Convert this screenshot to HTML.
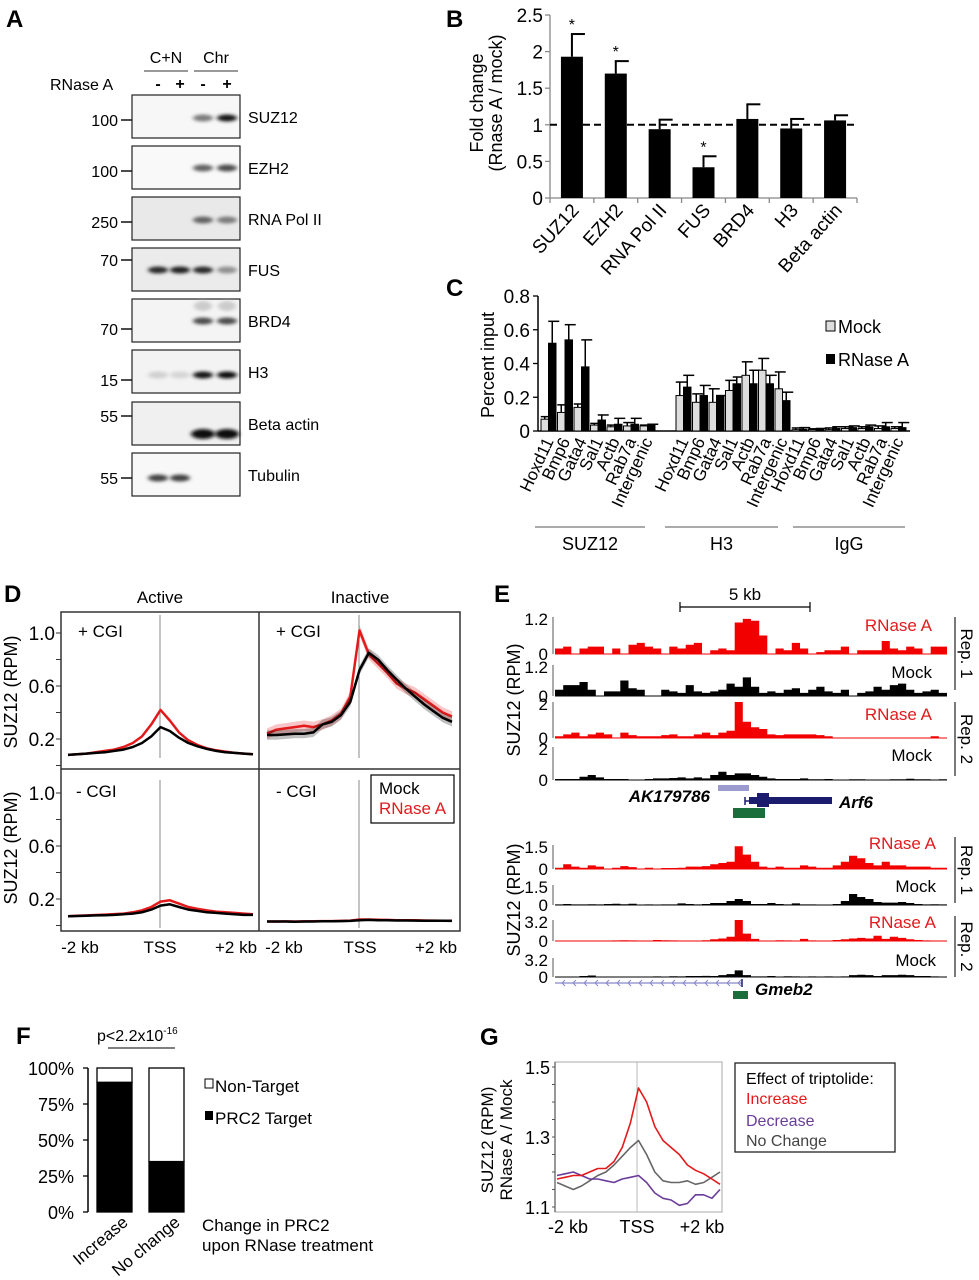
<!DOCTYPE html>
<html><head><meta charset="utf-8"><title>SUZ12 RNase A figure</title>
<style>
html,body{margin:0;padding:0;background:#fff;}
svg{display:block;font-family:"Liberation Sans",Arial,sans-serif;}
</style></head>
<body>
<svg id="fig" width="979" height="1280" viewBox="0 0 979 1280" xmlns="http://www.w3.org/2000/svg">
<defs>
<filter id="blur2" x="-50%" y="-100%" width="200%" height="300%"><feGaussianBlur stdDeviation="2.2 1.6"/></filter>
</defs>
</svg>
<script>
// ---------- Panel B data ----------
const bCats=['SUZ12','EZH2','RNA Pol II','FUS','BRD4','H3','Beta actin'];
const bVals=[1.93,1.70,0.94,0.42,1.08,0.95,1.06];
const bErr=[0.31,0.17,0.13,0.15,0.20,0.13,0.07];
const bStar=[1,1,0,1,0,0,0];
const bTicks=[0,0.5,1,1.5,2,2.5];
const bTickLabels=['0','0.5','1','1.5','2','2.5'];
// ---------- Panel C data ----------
const cGenes=['Hoxd11','Bmp6','Gata4','Sal1','Actb','Rab7a','Intergenic'];
const cGroups=['SUZ12','H3','IgG'];
const cMockSUZ12=[0.07,0.11,0.14,0.035,0.025,0.03,0.03];
const cRnaseSUZ12=[0.52,0.54,0.38,0.065,0.04,0.04,0.035];
const cMockErrSUZ12=[0.015,0.045,0.02,0.01,0.01,0.02,0.005];
const cRnaseErrSUZ12=[0.13,0.09,0.16,0.03,0.035,0.035,0.005];
const cMockH3=[0.21,0.17,0.17,0.24,0.33,0.36,0.25];
const cRnaseH3=[0.26,0.21,0.21,0.28,0.28,0.28,0.18];
const cMockErrH3=[0.08,0.05,0.08,0.06,0.08,0.07,0.10];
const cRnaseErrH3=[0.07,0.06,0.0,0.04,0.08,0.05,0.05];
const cMockIgG=[0.008,0.008,0.008,0.015,0.015,0.015,0.015];
const cRnaseIgG=[0.01,0.01,0.015,0.02,0.025,0.025,0.02];
const cMockErrIgG=[0.01,0.005,0.01,0.01,0.01,0.015,0.01];
const cRnaseErrIgG=[0.01,0.005,0.01,0.01,0.01,0.025,0.03];
const cTicks=[0,0.2,0.4,0.6,0.8];
const cTickLabels=['0','0.2','0.4','0.6','0.8'];
// ---------- Panel D data (21 points, -2kb..+2kb) ----------
const dActCgiMock=[0.08,0.085,0.09,0.095,0.10,0.11,0.12,0.14,0.17,0.22,0.29,0.26,0.21,0.17,0.145,0.125,0.11,0.10,0.095,0.09,0.085];
const dActCgiRnase=[0.08,0.085,0.09,0.10,0.11,0.12,0.14,0.17,0.22,0.31,0.42,0.34,0.25,0.19,0.155,0.13,0.115,0.105,0.095,0.09,0.085];
const dInCgiMock=[0.23,0.23,0.235,0.24,0.24,0.25,0.31,0.33,0.38,0.48,0.72,0.85,0.80,0.72,0.65,0.58,0.52,0.46,0.41,0.36,0.33];
const dInCgiRnase=[0.24,0.27,0.28,0.29,0.30,0.29,0.31,0.34,0.39,0.52,1.02,0.84,0.77,0.70,0.62,0.58,0.55,0.50,0.45,0.40,0.37];
const dActNoMock=[0.07,0.072,0.074,0.076,0.078,0.08,0.085,0.09,0.10,0.12,0.15,0.16,0.14,0.12,0.11,0.10,0.095,0.09,0.085,0.08,0.08];
const dActNoRnase=[0.07,0.073,0.076,0.079,0.082,0.086,0.09,0.10,0.115,0.14,0.18,0.19,0.165,0.14,0.125,0.115,0.105,0.10,0.095,0.09,0.085];
const dInNoMock=[0.03,0.03,0.03,0.028,0.03,0.03,0.032,0.032,0.033,0.035,0.04,0.042,0.04,0.04,0.038,0.038,0.037,0.036,0.036,0.036,0.035];
const dInNoRnase=[0.03,0.03,0.031,0.03,0.031,0.032,0.033,0.033,0.035,0.037,0.045,0.045,0.043,0.042,0.04,0.04,0.039,0.038,0.037,0.036,0.036];
const dYTicks=[0.2,0.6,1.0];
const dYTickLabels=['0.2','0.6','1.0'];
// ---------- Panel E data (48 bins, fraction of track max) ----------
const eArfR1=[0.15,0.2,0,0.15,0.2,0.2,0,0.15,0,0.25,0.3,0.2,0.15,0,0.2,0.15,0.25,0.3,0,0.1,0.15,0.1,0.85,0.95,0.9,0.5,0,0.15,0.1,0.3,0.15,0,0.05,0.1,0.1,0.2,0,0.1,0.1,0.1,0.35,0.15,0.1,0.2,0.15,0,0.2,0.2];
const eArfM1=[0.2,0.35,0.35,0.45,0.2,0,0.15,0.15,0.5,0.25,0.2,0,0,0.2,0.15,0.1,0.35,0.15,0.1,0.15,0.2,0.4,0.3,0.6,0.3,0.1,0.15,0.1,0.2,0.25,0.1,0.2,0.3,0.15,0.1,0.2,0,0.1,0.15,0.3,0.2,0.35,0.4,0.2,0.1,0.15,0.2,0.1];
const eArfR2=[0.05,0.1,0.15,0.05,0.1,0.15,0.1,0,0.15,0.08,0.05,0.05,0.05,0.08,0.1,0.05,0.05,0.1,0.15,0.08,0.15,0.2,1.0,0.45,0.3,0.25,0.1,0.08,0.1,0.1,0.1,0.1,0.08,0.05,0,0,0,0,0,0,0,0,0,0,0,0,0.05,0];
const eArfM2=[0.03,0.03,0.03,0.1,0.15,0.08,0.03,0.03,0.03,0,0,0.03,0.05,0.05,0.06,0.08,0.05,0.08,0.05,0.15,0.25,0.15,0.2,0.2,0.15,0.1,0.05,0.03,0.03,0.03,0.05,0.02,0.02,0.03,0,0,0.02,0.02,0,0,0,0.02,0.02,0.04,0.02,0.02,0.01,0.02];
const eGmR1=[0.05,0.2,0.1,0.05,0.15,0.1,0,0.05,0.12,0.08,0,0.05,0,0.04,0.04,0.05,0.1,0.1,0.12,0.2,0.25,0.3,0.95,0.6,0.3,0.1,0.05,0.1,0.05,0.05,0.15,0.1,0.05,0.05,0.15,0.3,0.55,0.45,0.25,0.15,0.3,0.15,0.15,0.1,0.1,0.1,0.05,0.05];
const eGmM1=[0.03,0.05,0.03,0.03,0.04,0.03,0.05,0.06,0.04,0.06,0,0.03,0.02,0.03,0.03,0.08,0.05,0.03,0.05,0.1,0.1,0.2,0.3,0.2,0.05,0.05,0.1,0.05,0.03,0.08,0.03,0.03,0.02,0.02,0.05,0.2,0.55,0.4,0.3,0.15,0.12,0.12,0.15,0.1,0.05,0.03,0.04,0.03];
const eGmR2=[0,0,0,0,0,0,0,0.03,0.04,0.03,0.02,0.02,0.05,0.04,0.03,0.02,0.02,0.02,0.04,0.08,0.12,0.2,1.0,0.35,0.1,0.02,0.02,0.04,0.03,0.02,0.1,0.03,0.02,0.02,0.05,0.08,0.12,0.15,0.12,0.25,0.1,0.2,0.15,0.08,0.05,0.03,0.02,0];
const eGmM2=[0,0,0,0.05,0.08,0.02,0.02,0.02,0.02,0.02,0.02,0.02,0.03,0.02,0.04,0.03,0.05,0.05,0.06,0.05,0.1,0.15,0.35,0.1,0.03,0.03,0.05,0.02,0.04,0.03,0.02,0.03,0.02,0.03,0.02,0.03,0.1,0.12,0.1,0.05,0.1,0.1,0.12,0.1,0.05,0.05,0.03,0.02];
// ---------- Panel F data ----------
const fCats=['Increase','No change'];
const fTarget=[90,35];
const fTicks=[0,25,50,75,100];
const fTickLabels=['0%','25%','50%','75%','100%'];
// ---------- Panel G data ----------
const gIncrease=[1.18,1.185,1.19,1.19,1.20,1.21,1.21,1.23,1.27,1.34,1.44,1.40,1.33,1.29,1.27,1.25,1.22,1.205,1.195,1.18,1.165];
const gNoChange=[1.17,1.16,1.15,1.16,1.175,1.19,1.20,1.22,1.245,1.27,1.29,1.25,1.20,1.175,1.17,1.17,1.175,1.165,1.17,1.185,1.20];
const gDecrease=[1.19,1.195,1.20,1.19,1.18,1.18,1.175,1.17,1.18,1.185,1.19,1.17,1.14,1.125,1.12,1.105,1.11,1.135,1.135,1.125,1.15];
const gTicks=[1.1,1.3,1.5];
const gTickLabels=['1.1','1.3','1.5'];
// ---------- Panel A data ----------
const aLanes=[158,180,203,227];
const aProteins=['SUZ12','EZH2','RNA Pol II','FUS','BRD4','H3','Beta actin','Tubulin'];
const aMW=['100','100','250','70','70','15','55','55'];
const aBand=[[0,0,0.5,0.95],[0,0,0.6,0.7],[0,0,0.6,0.5],[0.85,0.9,0.85,0.4],[0,0,0.7,0.7],[0.12,0.1,0.95,0.98],[0,0,0.97,0.97],[0.75,0.75,0,0]];
</script>
<script>
const NS='http://www.w3.org/2000/svg';
const svg=document.getElementById('fig');
function mk(tag,attrs,parent){const e=document.createElementNS(NS,tag);for(const k in attrs)e.setAttribute(k,attrs[k]);(parent||svg).appendChild(e);return e;}
function tx(str,x,y,attrs,parent){const e=mk('text',Object.assign({x:x,y:y},attrs||{}),parent);e.textContent=str;return e;}
function grp(name){const g=mk('g',{});return g;}
let el;

[['A',6,27],['B',446,27],['C',446,296],['D',4,602],['E',494,602],['F',16,1044],['G',480,1045]].forEach(function(p){
  el=tx(p[0],p[1],p[2],{'font-size':24,'font-weight':'bold'});
  
  
});

// ================= Panel A =================
(function(){
  const g=grp('panel-a-western-blots');
  el=tx('C+N',166,63,{'font-size':16,'text-anchor':'middle'},g);
  
  el=tx('Chr',216,63,{'font-size':16,'text-anchor':'middle'},g);
  
  mk('line',{x1:144,y1:71,x2:188,y2:71,stroke:'#333','stroke-width':1},g);
  mk('line',{x1:194,y1:71,x2:238,y2:71,stroke:'#333','stroke-width':1},g);
  el=tx('RNase A',50,90,{'font-size':16},g);
  
  ['-','+','-','+'].forEach(function(s,i){tx(s,aLanes[i],89,{'font-size':16,'text-anchor':'middle','font-weight':'bold'},g);});
  const tops=[95,146,197,248,299,350,402,453];
  const mwY=[120,171,222,260,329,380,416,478];
  const bandY=[118,168,220,270,321,375,434,478];
  const bg=['#f7f7f7','#f9f9f9','#e9e9e9','#ebebeb','#f4f4f4','#f3f3f3','#f0f0f0','#f8f8f8'];
  for(let r=0;r<8;r++){
    const rg=mk('g',{},g);
    
    
    mk('rect',{x:132,y:tops[r],width:108,height:43,fill:bg[r],stroke:'#222','stroke-width':1.2},rg);
    for(let l=0;l<4;l++){
      const v=aBand[r][l]; if(v<=0) continue;
      const gray=Math.round(235-v*225);
      mk('ellipse',{cx:aLanes[l],cy:bandY[r],rx:(r===6?12:10),ry:(r===6?5:3.5),fill:'rgb('+gray+','+gray+','+gray+')',filter:'url(#blur2)'},rg);
    }
    if(r===4){for(let l=2;l<4;l++){mk('ellipse',{cx:aLanes[l],cy:306,rx:9,ry:5,fill:'#ccc',filter:'url(#blur2)'},rg);}}
    el=tx(aProteins[r],248,tops[r]+28,{'font-size':16},g);
    
    el=tx(aMW[r],118,mwY[r]+6,{'font-size':16,'text-anchor':'end'},g);
    
    mk('line',{x1:121,y1:mwY[r],x2:132,y2:mwY[r],stroke:'#111','stroke-width':1.5},g);
  }
})();

// ================= Panel B =================
(function(){
  const g=grp('panel-b-fold-change-chart');
  const x0=550,x1=857,y0=198,k=73.2;
  const yB=function(v){return y0-v*k;};
  const cw=(x1-x0)/bCats.length;
  const xB=function(i){return x0+cw*(i+0.5);};
  mk('line',{x1:x0,y1:yB(2.5),x2:x0,y2:y0,stroke:'#888','stroke-width':1.3},g);
  mk('line',{x1:x0,y1:y0,x2:x1,y2:y0,stroke:'#888','stroke-width':1.3},g);
  bTicks.forEach(function(t,i){
    mk('line',{x1:x0-5,y1:yB(t),x2:x0,y2:yB(t),stroke:'#888','stroke-width':1.3},g);
    el=tx(bTickLabels[i],543,yB(t)+7,{'font-size':19,'text-anchor':'end'},g);
    
  });
  for(let i=0;i<=bCats.length;i++){mk('line',{x1:x0+cw*i,y1:y0,x2:x0+cw*i,y2:y0+5,stroke:'#888','stroke-width':1.3},g);}
  bCats.forEach(function(c,i){
    const cx=xB(i);
    el=mk('rect',{x:cx-11,y:yB(bVals[i]),width:22,height:y0-yB(bVals[i]),fill:'#000'},g);
    
    mk('line',{x1:cx,y1:yB(bVals[i]),x2:cx,y2:yB(bVals[i]+bErr[i]),stroke:'#000','stroke-width':2},g);
    mk('line',{x1:cx-1,y1:yB(bVals[i]+bErr[i]),x2:cx+13,y2:yB(bVals[i]+bErr[i]),stroke:'#000','stroke-width':2},g);
    if(bStar[i]){tx('*',cx,yB(bVals[i]+bErr[i])-4,{'font-size':16,'text-anchor':'middle'},g);}
    el=tx(c,0,0,{'font-size':19,'text-anchor':'end',transform:'translate('+(cx+8)+',211) rotate(-48)'},g);
    
  });
  mk('line',{x1:x0,y1:yB(1),x2:x1-3,y2:yB(1),stroke:'#000','stroke-width':2,'stroke-dasharray':'7,4'},g);
  el=tx('Fold change',0,0,{'font-size':18,'text-anchor':'middle',transform:'translate(483,103) rotate(-90)'},g);
  
  tx('(Rnase  A / mock)',0,0,{'font-size':18,'text-anchor':'middle',transform:'translate(502,103) rotate(-90)'},g);
})();

// ================= Panel C =================
(function(){
  const g=grp('panel-c-percent-input-chart');
  const x0=538,y0=431,k=168.75;
  const yC=function(v){return y0-v*k;};
  const gStart=[541,676,792];
  const pw=16.5;
  mk('line',{x1:x0,y1:yC(0.8),x2:x0,y2:y0,stroke:'#000','stroke-width':1.5},g);
  mk('line',{x1:x0,y1:y0,x2:910,y2:y0,stroke:'#000','stroke-width':1.5},g);
  cTicks.forEach(function(t,i){
    mk('line',{x1:x0-5,y1:yC(t),x2:x0,y2:yC(t),stroke:'#000','stroke-width':1.3},g);
    el=tx(cTickLabels[i],530,yC(t)+7,{'font-size':19,'text-anchor':'end'},g);
    
  });
  el=tx('Percent input',0,0,{'font-size':18,'text-anchor':'middle',transform:'translate(494,365) rotate(-90)'},g);
  
  const mocks=[cMockSUZ12,cMockH3,cMockIgG], rn=[cRnaseSUZ12,cRnaseH3,cRnaseIgG];
  const me=[cMockErrSUZ12,cMockErrH3,cMockErrIgG], re=[cRnaseErrSUZ12,cRnaseErrH3,cRnaseErrIgG];
  const lineX=[[535,645],[665,778],[793,905]];
  for(let gi=0;gi<3;gi++){
    cGenes.forEach(function(gn,i){
      const bx=gStart[gi]+i*pw;
      const vals=[mocks[gi][i],rn[gi][i]], errs=[me[gi][i],re[gi][i]];
      for(let s=0;s<2;s++){
        const x=bx+s*7.5;
        el=mk('rect',{x:x,y:yC(vals[s]),width:7.5,height:y0-yC(vals[s]),fill:s?'#000':'#ddd',stroke:'#000','stroke-width':1},g);
        
        
        const cx=x+3.75, ty=yC(vals[s]+errs[s]);
        mk('line',{x1:cx,y1:yC(vals[s]),x2:cx,y2:ty,stroke:'#000','stroke-width':1.5},g);
        mk('line',{x1:cx-4,y1:ty,x2:cx+7,y2:ty,stroke:'#000','stroke-width':1.5},g);
      }
      el=tx(gn,0,0,{'font-size':17,'text-anchor':'end',transform:'translate('+(bx+13)+',441) rotate(-65)'},g);
      
    });
    mk('line',{x1:lineX[gi][0],y1:527,x2:lineX[gi][1],y2:527,stroke:'#555','stroke-width':1},g);
    el=tx(cGroups[gi],(lineX[gi][0]+lineX[gi][1])/2,550,{'font-size':18,'text-anchor':'middle'},g);
    
  }
  const lg=mk('g',{},g);
  
  mk('rect',{x:826,y:321,width:9,height:10,fill:'#ddd',stroke:'#000','stroke-width':1},lg);
  tx('Mock',838,333,{'font-size':18},lg);
  mk('rect',{x:826,y:354,width:9,height:10,fill:'#000'},lg);
  tx('RNase A',838,366,{'font-size':18},lg);
})();

// ================= Panel D =================
(function(){
  const g=grp('panel-d-metaplots');
  const L=61,M=259,R=460,T=612,MID=769,B=931,k=132.5;
  tx('Active',160,603,{'font-size':17,'text-anchor':'middle'},g);
  tx('Inactive',360,603,{'font-size':17,'text-anchor':'middle'},g);
  mk('rect',{x:L,y:T,width:R-L,height:B-T,fill:'none',stroke:'#333','stroke-width':1.5},g);
  mk('line',{x1:M,y1:T,x2:M,y2:B,stroke:'#333','stroke-width':1.5},g);
  mk('line',{x1:L,y1:MID,x2:R,y2:MID,stroke:'#333','stroke-width':1.5},g);
  const tops=[633,793];
  tops.forEach(function(t1,ri){
    const yD=function(v){return t1+(1-v)*k;};
    for(let v=0.0;v<=1.01;v+=0.2){mk('line',{x1:L-5,y1:yD(v),x2:L,y2:yD(v),stroke:'#333','stroke-width':1},g);}
    dYTicks.forEach(function(t,i){
      el=tx(dYTickLabels[i],55,yD(t)+7,{'font-size':19,'text-anchor':'end'},g);
      
    });
    el=tx('SUZ12 (RPM)',0,0,{'font-size':18,'text-anchor':'middle',transform:'translate(17,'+(ri?848:692)+') rotate(-90)'},g);
    
  });
  mk('line',{x1:160,y1:615,x2:160,y2:758,stroke:'#888','stroke-width':1},g);
  mk('line',{x1:359,y1:615,x2:359,y2:758,stroke:'#888','stroke-width':1},g);
  mk('line',{x1:160,y1:780,x2:160,y2:928,stroke:'#888','stroke-width':1},g);
  mk('line',{x1:359,y1:780,x2:359,y2:928,stroke:'#888','stroke-width':1},g);
  tx('+ CGI',78,637,{'font-size':17},g);tx('+ CGI',276,637,{'font-size':17},g);
  tx('- CGI',76,797,{'font-size':17},g);tx('- CGI',276,797,{'font-size':17},g);
  function curve(arr,xs,xe,top,color,w,name,band){
    const n=arr.length;
    const xD=function(i){return xs+(xe-xs)*i/(n-1);};
    const yD=function(v){return top+(1-v)*k;};
    if(band){
      let d='';
      for(let i=0;i<n;i++) d+=(i?'L':'M')+xD(i).toFixed(1)+','+yD(arr[i]+band).toFixed(1);
      for(let i=n-1;i>=0;i--) d+='L'+xD(i).toFixed(1)+','+yD(arr[i]-band).toFixed(1);
      mk('path',{d:d+'Z',fill:color,opacity:0.25},g);
    }
    const pts=arr.map(function(v,i){return xD(i).toFixed(1)+','+yD(v).toFixed(1);}).join(' ');
    el=mk('polyline',{points:pts,fill:'none',stroke:color,'stroke-width':w,'stroke-linejoin':'round'},g);
    
  }
  curve(dActCgiRnase,68,253,633,'#e31a1c',2.5,'active-cgi-rnase-line');
  curve(dActCgiMock,68,253,633,'#000',2.5,'active-cgi-mock-line');
  curve(dInCgiRnase,267,452,633,'#e31a1c',2.5,'inactive-cgi-rnase-line',0.04);
  curve(dInCgiMock,267,452,633,'#000',2.5,'inactive-cgi-mock-line',0.035);
  curve(dActNoRnase,68,253,793,'#e31a1c',2.5,'active-nocgi-rnase-line');
  curve(dActNoMock,68,253,793,'#000',2.5,'active-nocgi-mock-line');
  curve(dInNoRnase,267,452,793,'#e31a1c',2.5,'inactive-nocgi-rnase-line');
  curve(dInNoMock,267,452,793,'#000',2.5,'inactive-nocgi-mock-line');
  const lg=mk('g',{},g);
  
  mk('rect',{x:371,y:775,width:83,height:48,fill:'#fff',stroke:'#000','stroke-width':1.2},lg);
  tx('Mock',379,794,{'font-size':17},lg);
  tx('RNase A',379,814,{'font-size':17,fill:'#e31a1c'},lg);
  [['-2 kb',80],['TSS',160],['+2 kb',236],['-2 kb',284],['TSS',360],['+2 kb',436]].forEach(function(p){
    el=tx(p[0],p[1],953,{'font-size':17,'text-anchor':'middle'},g);
    
  });
})();

// ================= Panel E =================
(function(){
  const g=grp('panel-e-browser-tracks');
  const x0=555,x1=947;
  mk('line',{x1:680,y1:607,x2:810,y2:607,stroke:'#000','stroke-width':1.2},g);
  mk('line',{x1:680,y1:602,x2:680,y2:612,stroke:'#000','stroke-width':1.2},g);
  mk('line',{x1:810,y1:602,x2:810,y2:612,stroke:'#000','stroke-width':1.2},g);
  tx('5 kb',745,600,{'font-size':17,'text-anchor':'middle'},g);
  function track(arr,base,top,color,maxLabel,label,labelY,labelX,name){
    const tg=mk('g',{},g);
    
    const n=arr.length,bw=(x1-x0)/n,h=base-top;
    let d='M'+x0+','+base;
    for(let i=0;i<n;i++){const yy=base-arr[i]*h;d+='L'+(x0+i*bw).toFixed(1)+','+yy.toFixed(1)+'L'+(x0+(i+1)*bw).toFixed(1)+','+yy.toFixed(1);}
    d+='L'+x1+','+base+'Z';
    mk('path',{d:d,fill:color},tg);
    mk('line',{x1:x0,y1:base,x2:x1,y2:base,stroke:color,'stroke-width':1},tg);
    mk('line',{x1:x0-2,y1:top,x2:x0-2,y2:base,stroke:'#555','stroke-width':1},tg);
    tx(maxLabel,548,top+8,{'font-size':17,'text-anchor':'end'},tg);
    tx('0',548,base+6,{'font-size':17,'text-anchor':'end'},tg);
    tx(label,labelX,labelY,{'font-size':17,'text-anchor':'end',fill:color==='#000'?'#000':'#e31a1c'},tg);
  }
  const red='#f20000';
  track(eArfR1,654,617,red,'1.2','RNase A',631,932,'arf6-rep1-rnase-track');
  track(eArfM1,696,665,'#000','1.2','Mock',678,932,'arf6-rep1-mock-track');
  track(eArfR2,738,702,red,'2','RNase A',720,932,'arf6-rep2-rnase-track');
  track(eArfM2,780,747,'#000','2','Mock',761,932,'arf6-rep2-mock-track');
  track(eGmR1,869,845,red,'1.5','RNase A',849,936,'gmeb2-rep1-rnase-track');
  track(eGmM1,905,885,'#000','1.5','Mock',892,936,'gmeb2-rep1-mock-track');
  track(eGmR2,941,920,red,'3.2','RNase A',928,936,'gmeb2-rep2-rnase-track');
  track(eGmM2,977,958,'#000','3.2','Mock',966,936,'gmeb2-rep2-mock-track');
  el=tx('SUZ12 (RPM)',0,0,{'font-size':18,'text-anchor':'middle',transform:'translate(520,700) rotate(-90)'},g);
  
  el=tx('SUZ12 (RPM)',0,0,{'font-size':18,'text-anchor':'middle',transform:'translate(520,900) rotate(-90)'},g);
  
  [[617,690,'Rep. 1'],[702,776,'Rep. 2'],[837,903,'Rep. 1'],[916,977,'Rep. 2']].forEach(function(r){
    mk('line',{x1:955,y1:r[0],x2:955,y2:r[1],stroke:'#333','stroke-width':1.3},g);
    el=tx(r[2],0,0,{'font-size':17,'text-anchor':'middle',transform:'translate(961,'+((r[0]+r[1])/2)+') rotate(90)'},g);
    
  });
  mk('rect',{x:718,y:785,width:31,height:6,fill:'#9b9bd0'},g);
  el=tx('AK179786',710,802,{'font-size':17,'text-anchor':'end','font-weight':'bold','font-style':'italic'},g);
  
  mk('line',{x1:745,y1:801,x2:832,y2:801,stroke:'#1c1c6e','stroke-width':1.5},g);
  mk('line',{x1:745,y1:797,x2:745,y2:805,stroke:'#1c1c6e','stroke-width':1.5},g);
  mk('rect',{x:749,y:797,width:83,height:7,fill:'#1c1c6e'},g);
  mk('rect',{x:757,y:793,width:12,height:14,fill:'#1c1c6e'},g);
  el=tx('Arf6',839,808,{'font-size':17,'font-weight':'bold','font-style':'italic'},g);
  
  mk('rect',{x:733,y:808,width:32,height:10,fill:'#1a6e3c'},g);
  mk('line',{x1:555,y1:983,x2:742,y2:983,stroke:'#8888cc','stroke-width':1.2},g);
  for(let x=562;x<740;x+=11){mk('path',{d:'M'+(x+3)+',980 L'+x+',983 L'+(x+3)+',986',fill:'none',stroke:'#8888cc','stroke-width':1},g);}
  mk('line',{x1:742,y1:979,x2:742,y2:987,stroke:'#1c1c6e','stroke-width':1.5},g);
  mk('rect',{x:733,y:991,width:15,height:8,fill:'#1a6e3c'},g);
  el=tx('Gmeb2',755,995,{'font-size':17,'font-weight':'bold','font-style':'italic'},g);
  
})();

// ================= Panel F =================
(function(){
  const g=grp('panel-f-stacked-bars');
  const y0=1212,k=1.44;
  const yF=function(p){return y0-p*k;};
  mk('line',{x1:88,y1:yF(100),x2:88,y2:y0,stroke:'#000','stroke-width':1.5},g);
  fTicks.forEach(function(t,i){
    mk('line',{x1:83,y1:yF(t),x2:88,y2:yF(t),stroke:'#000','stroke-width':1.3},g);
    el=tx(fTickLabels[i],74,yF(t)+7,{'font-size':18,'text-anchor':'end'},g);
    
  });
  const bx=[97,149];
  fCats.forEach(function(c,i){
    el=mk('rect',{x:bx[i],y:yF(100),width:35,height:yF(fTarget[i])-yF(100),fill:'#fff',stroke:'#000','stroke-width':1.3},g);
    
    el=mk('rect',{x:bx[i],y:yF(fTarget[i]),width:35,height:y0-yF(fTarget[i]),fill:'#000',stroke:'#000','stroke-width':1.3},g);
    
    el=tx(c,0,0,{'font-size':17,'text-anchor':'end',transform:'translate('+(bx[i]+32)+',1224) rotate(-40)'},g);
    
  });
  const p=tx('p<2.2x10',97,1041,{'font-size':16},g);
  const sup=mk('tspan',{dy:-7,'font-size':10},p);sup.textContent='-16';
  
  mk('line',{x1:108,y1:1048,x2:175,y2:1048,stroke:'#333','stroke-width':1.2},g);
  const lg=mk('g',{},g);
  
  mk('rect',{x:205,y:1079,width:8,height:9,fill:'#fff',stroke:'#000','stroke-width':1},lg);
  tx('Non-Target',215,1092,{'font-size':17},lg);
  mk('rect',{x:205,y:1111,width:8,height:9,fill:'#000'},lg);
  tx('PRC2 Target',215,1124,{'font-size':17},lg);
  tx('Change in PRC2',202,1231,{'font-size':17},g);
  tx('upon RNase treatment',202,1251,{'font-size':17},g);
})();

// ================= Panel G =================
(function(){
  const g=grp('panel-g-ratio-profiles');
  const L=555,R=722,T=1062,B=1212;
  const yG=function(v){return 1207-(v-1.1)*350;};
  mk('rect',{x:L,y:T,width:R-L,height:B-T,fill:'none',stroke:'#aaa','stroke-width':1},g);
  mk('line',{x1:L,y1:T,x2:L,y2:B,stroke:'#555','stroke-width':1.2},g);
  mk('line',{x1:637,y1:T,x2:637,y2:B,stroke:'#bbb','stroke-width':1},g);
  for(let v=1.1;v<=1.51;v+=0.05){mk('line',{x1:L-3,y1:yG(v),x2:L,y2:yG(v),stroke:'#555','stroke-width':1},g);}
  gTicks.forEach(function(t,i){
    el=tx(gTickLabels[i],550,yG(t)+7,{'font-size':18,'text-anchor':'end'},g);
    
  });
  el=tx('SUZ12 (RPM)',0,0,{'font-size':17,'text-anchor':'middle',transform:'translate(493,1140) rotate(-90)'},g);
  
  tx('RNase A / Mock',0,0,{'font-size':17,'text-anchor':'middle',transform:'translate(512,1140) rotate(-90)'},g);
  const xG=function(i,n){return 557+(720-557)*i/(n-1);};
  [[gNoChange,'#666','no-change-line'],[gDecrease,'#6a3d9a','decrease-line'],[gIncrease,'#e31a1c','increase-line']].forEach(function(s){
    const pts=s[0].map(function(v,i){return xG(i,s[0].length).toFixed(1)+','+yG(v).toFixed(1);}).join(' ');
    el=mk('polyline',{points:pts,fill:'none',stroke:s[1],'stroke-width':1.6,'stroke-linejoin':'round'},g);
    
  });
  [['-2 kb',568],['TSS',637],['+2 kb',702]].forEach(function(p){
    el=tx(p[0],p[1],1233,{'font-size':18,'text-anchor':'middle'},g);
    
  });
  const lg=mk('g',{},g);
  
  mk('rect',{x:735,y:1063,width:160,height:89,fill:'#fff',stroke:'#222','stroke-width':1.3},lg);
  tx('Effect of triptolide:',746,1084,{'font-size':16},lg);
  tx('Increase',746,1104,{'font-size':16,fill:'#e31a1c'},lg);
  tx('Decrease',746,1126,{'font-size':16,fill:'#6a3d9a'},lg);
  tx('No Change',746,1146,{'font-size':16,fill:'#444'},lg);
})();
</script>
</body></html>
